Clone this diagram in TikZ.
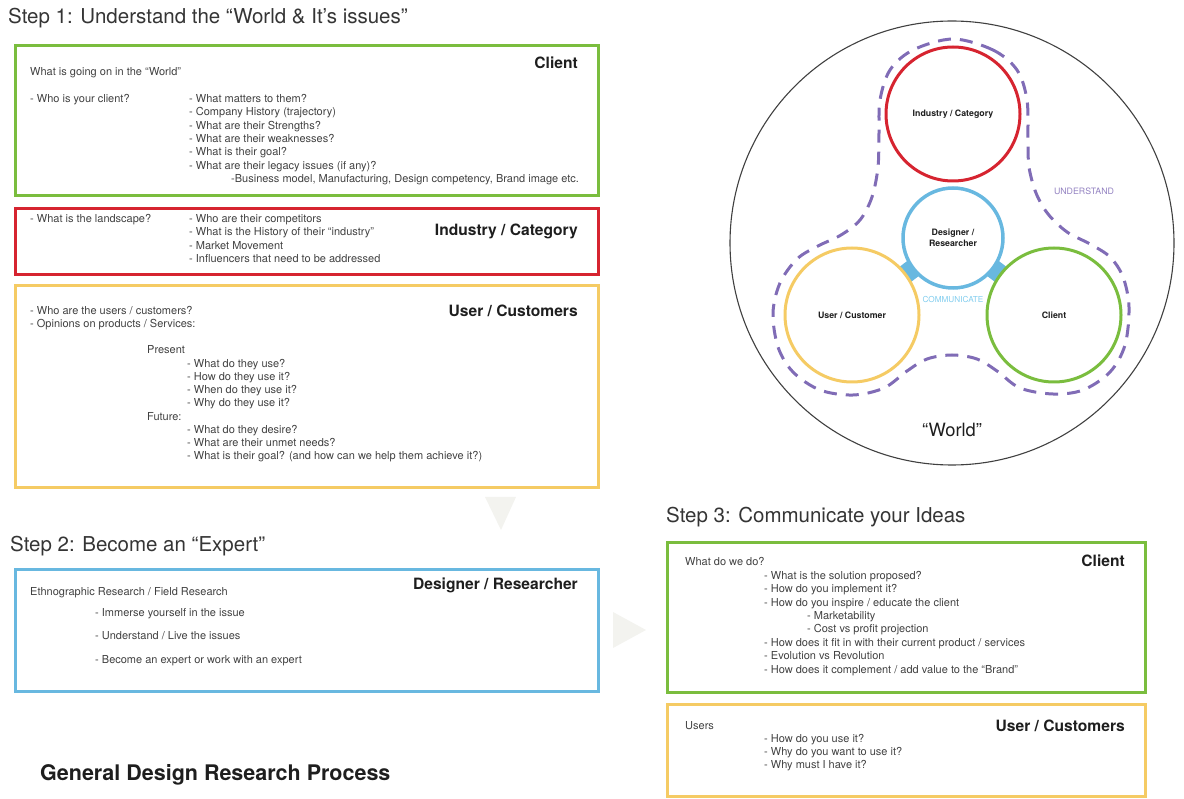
\documentclass[tikz,border=0pt]{standalone}
\usepackage{fontspec}
\setmainfont{TeX Gyre Heros}
\usetikzlibrary{backgrounds}
\definecolor{cgreen}{RGB}{122,189,62}
\definecolor{cred}{RGB}{214,36,48}
\definecolor{cyellow}{RGB}{245,203,100}
\definecolor{cblue}{RGB}{104,184,224}
\definecolor{clblue}{RGB}{130,205,238}
\definecolor{cpurple}{RGB}{128,108,182}
\definecolor{ctext}{RGB}{65,65,65}
\definecolor{chead}{RGB}{30,30,30}
\definecolor{carrow}{RGB}{243,243,239}
\begin{document}
\begin{tikzpicture}[x=1pt,y=-1pt,
  panel/.style={draw, line width=3pt, inner sep=0pt, anchor=north west},
  ln/.style={anchor=west, inner sep=0pt, text height=8pt, text depth=2.2pt, text=ctext, font=\fontsize{11}{13}\selectfont},
  head/.style={anchor=east, inner sep=0pt, text=chead, font=\bfseries\fontsize{15.6}{18}\selectfont},
  steptitle/.style={anchor=west, inner sep=0pt, text=chead!90, font=\fontsize{20.5}{24}\selectfont},
  ring/.style={circle, draw, line width=3pt, inner sep=0pt, text=chead, align=center, font=\bfseries\fontsize{8.8}{11.5}\selectfont},
  commlink/.style={cblue, line width=19pt}
]
\useasboundingbox (0,0) rectangle (1184,799);

% ---------- Step 1 ----------
\node[steptitle] (t1) at (8,18) {Step 1: Understand the “World \& It’s issues”};

\node[panel, cgreen, minimum width=583pt, minimum height=150pt] (b1) at (14,44) {};
\node[head] (h1) at (578,63) {Client};
\node[ln] (l1a) at (30,73) {What is going on in the “World”};
\node[ln] (l1b) at (30,100) {- Who is your client?};
\node[ln] (l1c) at (189,100) {- What matters to them?};
\node[ln] (l1d) at (189,113) {- Company History (trajectory)};
\node[ln] (l1e) at (189,127) {- What are their Strengths?};
\node[ln] (l1f) at (189,140) {- What are their weaknesses?};
\node[ln] (l1g) at (189,153) {- What is their goal?};
\node[ln] (l1h) at (189,167) {- What are their legacy issues (if any)?};
\node[ln] (l1i) at (231,180) {-Business model, Manufacturing, Design competency, Brand image etc.};

\node[panel, cred, minimum width=583pt, minimum height=66pt] (b2) at (14,207) {};
\node[head] (h2) at (578,231) {Industry / Category};
\node[ln] (l2a) at (30,220) {- What is the landscape?};
\node[ln] (l2b) at (189,220) {- Who are their competitors};
\node[ln] (l2c) at (189,233) {- What is the History of their “industry”};
\node[ln] (l2d) at (189,247) {- Market Movement};
\node[ln] (l2e) at (189,260) {- Influencers that need to be addressed};

\node[panel, cyellow, minimum width=583pt, minimum height=202pt] (b3) at (14,284) {};
\node[head] (h3) at (578,311) {User / Customers};
\node[ln] (l3a) at (30,312) {- Who are the users / customers?};
\node[ln] (l3b) at (30,325) {- Opinions on products / Services:};
\node[ln] (l3c) at (147,351) {Present};
\node[ln] (l3d) at (187,365) {- What do they use?};
\node[ln] (l3e) at (187,378) {- How do they use it?};
\node[ln] (l3f) at (187,391) {- When do they use it?};
\node[ln] (l3g) at (187,404) {- Why do they use it?};
\node[ln] (l3h) at (147,418) {Future:};
\node[ln] (l3i) at (187,431) {- What do they desire?};
\node[ln] (l3j) at (187,444) {- What are their unmet needs?};
\node[ln] (l3k) at (187,457) {- What is their goal? (and how can we help them achieve it?)};

% faint arrows
\fill[carrow] (485,497) -- (516,497) -- (501,530) -- cycle;
\fill[carrow] (613,612) -- (613,648) -- (646,630) -- cycle;

% ---------- Step 2 ----------
\node[steptitle] (t2) at (10,546) {Step 2: Become an “Expert”};
\node[panel, cblue, minimum width=583pt, minimum height=122pt] (b4) at (14,568) {};
\node[head] (h4) at (578,585) {Designer / Researcher};
\node[ln] (l4a) at (30,593) {Ethnographic Research / Field Research};
\node[ln] (l4b) at (95,614) {- Immerse yourself in the issue};
\node[ln] (l4c) at (95,637) {- Understand / Live the issues};
\node[ln] (l4d) at (95,661) {- Become an expert or work with an expert};

\node[anchor=west, inner sep=0pt, text=chead, font=\bfseries\fontsize{21.5}{25}\selectfont] (gt) at (40,775) {General Design Research Process};

% ---------- Step 3 ----------
\node[steptitle] (t3) at (666,517) {Step 3: Communicate your Ideas};
\node[panel, cgreen, minimum width=478pt, minimum height=150pt] (b5) at (666,541) {};
\node[head] (h5) at (1125,561) {Client};
\node[ln] (l5a) at (685,563) {What do we do?};
\node[ln] (l5b) at (764,577) {- What is the solution proposed?};
\node[ln] (l5c) at (764,590) {- How do you implement it?};
\node[ln] (l5d) at (764,604) {- How do you inspire / educate the client};
\node[ln] (l5e) at (807,617) {- Marketability};
\node[ln] (l5f) at (807,630) {- Cost vs profit projection};
\node[ln] (l5g) at (764,644) {- How does it fit in with their current product / services};
\node[ln] (l5h) at (764,657) {- Evolution vs Revolution};
\node[ln] (l5i) at (764,671) {- How does it complement / add value to the “Brand”};

\node[panel, cyellow, minimum width=478pt, minimum height=92pt] (b6) at (666,703) {};
\node[head] (h6) at (1125,726) {User / Customers};
\node[ln] (l6a) at (685,727) {Users};
\node[ln] (l6b) at (764,740) {- How do you use it?};
\node[ln] (l6c) at (764,753) {- Why do you want to use it?};
\node[ln] (l6d) at (764,766) {- Why must I have it?};

% ---------- World diagram ----------
\node[circle, draw=black!75, line width=1.1pt, minimum size=444pt, inner sep=0pt] (world) at (952,243) {};
\node[inner sep=0pt, text=chead, font=\fontsize{18.3}{21}\selectfont] (wl) at (952,430) {“World”};

\draw[cpurple, line width=3pt, dash pattern=on 13pt off 9pt]
  plot[smooth cycle, tension=0.55] coordinates {
  (953,39) (993,50) (1017,70) (1027,100) (1028,140) (1029,167) (1036,193) (1048,214)
  (1067,232) (1090,244) (1110,257) (1123,277) (1129,307) (1125,345) (1110,372) (1083,390)
  (1053,394) (1020,388) (997,371) (977,359) (952,355) (927,359) (907,371) (884,388)
  (853,395) (820,390) (793,372) (778,347) (773,313) (780,283) (797,259) (818,246)
  (841,235) (860,220) (872,197) (878,167) (879,133) (880,100) (890,70) (913,50)};
\node[inner sep=0pt, text=cpurple!85, font=\fontsize{8.8}{10}\selectfont] (und) at (1084,191) {UNDERSTAND};

\node[ring, cred, minimum size=134pt] (ind) at (953,114) {\textcolor{chead}{Industry / Category}};
\node[ring, cblue, minimum size=100pt, line width=3.5pt, fill=white] (des) at (953,238) {\textcolor{chead}{Designer /}\\\textcolor{chead}{Researcher}};
\node[ring, cyellow, minimum size=134pt, fill=white] (usr) at (852,315) {\textcolor{chead}{User / Customer}};
\node[ring, cgreen, minimum size=134pt, fill=white] (cli) at (1054,315) {\textcolor{chead}{Client}};
\node[inner sep=0pt, text=clblue, font=\fontsize{8.2}{10}\selectfont] (com) at (953,300) {COMMUNICATE};

\begin{scope}[on background layer]
\draw[commlink, shorten <=-8pt, shorten >=-8pt] (des) -- (usr);
\draw[commlink, shorten <=-8pt, shorten >=-8pt] (des) -- (cli);
\end{scope}
\end{tikzpicture}
\end{document}
